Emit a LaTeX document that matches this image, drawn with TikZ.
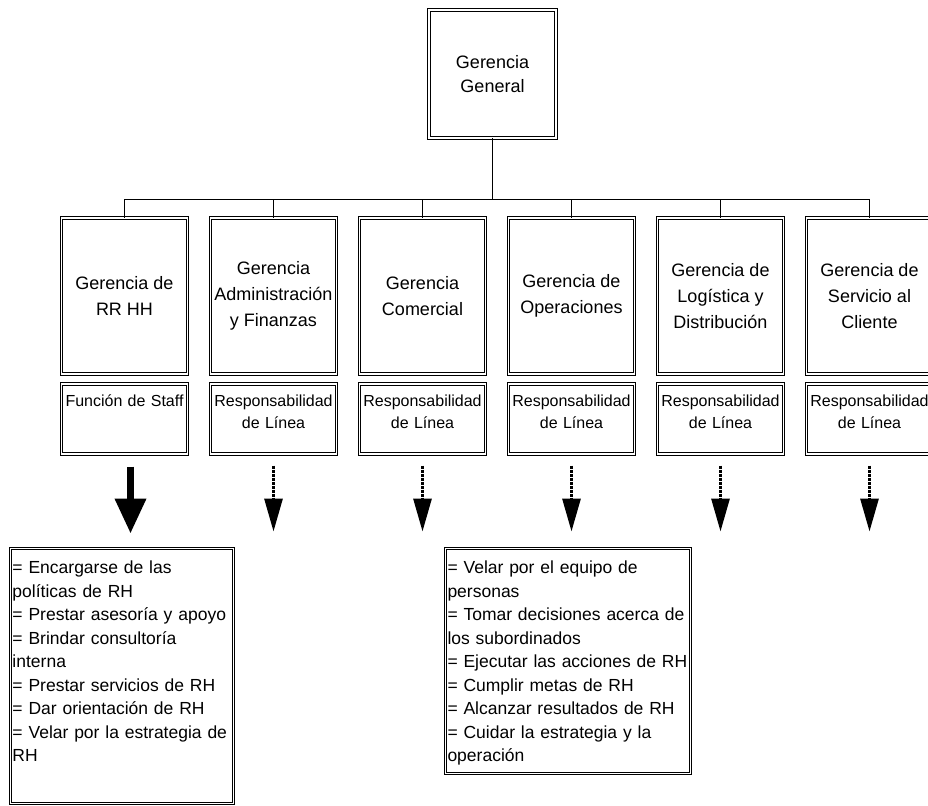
\documentclass[tikz,border=0pt]{standalone}
\usepackage{fontspec}
\setmainfont{Liberation Sans}
\usetikzlibrary{positioning,arrows.meta}

\begin{document}
\begin{tikzpicture}[x=1pt, y=-1pt,
  caja/.style={draw, double, double distance=1.4pt, line width=1pt, minimum width=126pt, align=center, inner sep=3pt},
  gerencia/.style={caja, minimum height=156pt, font=\fontsize{18}{26}\selectfont},
  funcion/.style={caja, text width=120pt, text height=19.5pt, text depth=44.5pt, font=\fontsize{16}{22}\selectfont},
  lista/.style={caja, align=left, inner sep=2pt, text height=23pt, font=\fontsize{17.5}{23.5}\selectfont},
  conector/.style={line width=0.7pt},
  flechastaff/.style={line width=7pt, -{Triangle[width=30pt, length=35pt]}},
  flechalinea/.style={line width=3pt, densely dotted, -{Triangle[width=18pt, length=33pt]}}]
\useasboundingbox (0,0) rectangle (928,805);
\node[gerencia, minimum width=127pt, minimum height=128pt, font=\fontsize{18}{23.5}\selectfont] (gg) at (492.5,74) {Gerencia\\General};
\node[gerencia] (g1) at (124.5,296) {Gerencia de\\RR HH};
\node[gerencia, right=22pt of g1] (g2) {Gerencia\\Administración\\y Finanzas};
\node[gerencia, right=22pt of g2] (g3) {Gerencia\\Comercial};
\node[gerencia, right=22pt of g3] (g4) {Gerencia de\\Operaciones};
\node[gerencia, right=22pt of g4] (g5) {Gerencia de\\Logística y\\Distribución};
\node[gerencia, right=22pt of g5] (g6) {Gerencia de\\Servicio al\\Cliente};
\node[funcion, below=9pt of g1] (f1) {Función de Staff};
\foreach \i in {2,...,6} \node[funcion, below=9pt of g\i] (f\i) {Responsabilidad\\de Línea};
\coordinate (bus) at (492.5,199);
\draw[conector] (gg.south) -- (bus);
\draw[conector] (bus -| g1.north) -- (bus -| g6.north);
\foreach \i in {1,...,6} \draw[conector] (bus -| g\i.north) -- (g\i.north);
\path (f1.south) ++(6,79) coordinate (t1);
\draw[flechastaff] (f1.south) ++(6,12) -- (t1);
\foreach \i in {2,...,6} {\path (f\i.south) ++(0,77) coordinate (t\i); \draw[flechalinea] (f\i.south) ++(0,11) -- (t\i);}
\node[lista, text width=219pt, text depth=228pt, anchor=north west] (l1) at (10,548) {= Encargarse de las\\políticas de RH\\= Prestar asesoría y apoyo\\= Brindar consultoría\\interna\\= Prestar servicios de RH\\= Dar orientación de RH\\= Velar por la estrategia de\\RH};
\node[lista, text width=241pt, text depth=198pt, anchor=north west] (l2) at (445,548) {= Velar por el equipo de\\personas\\= Tomar decisiones acerca de\\los subordinados\\= Ejecutar las acciones de RH\\= Cumplir metas de RH\\= Alcanzar resultados de RH\\= Cuidar la estrategia y la\\operación};
\end{tikzpicture}
\end{document}
